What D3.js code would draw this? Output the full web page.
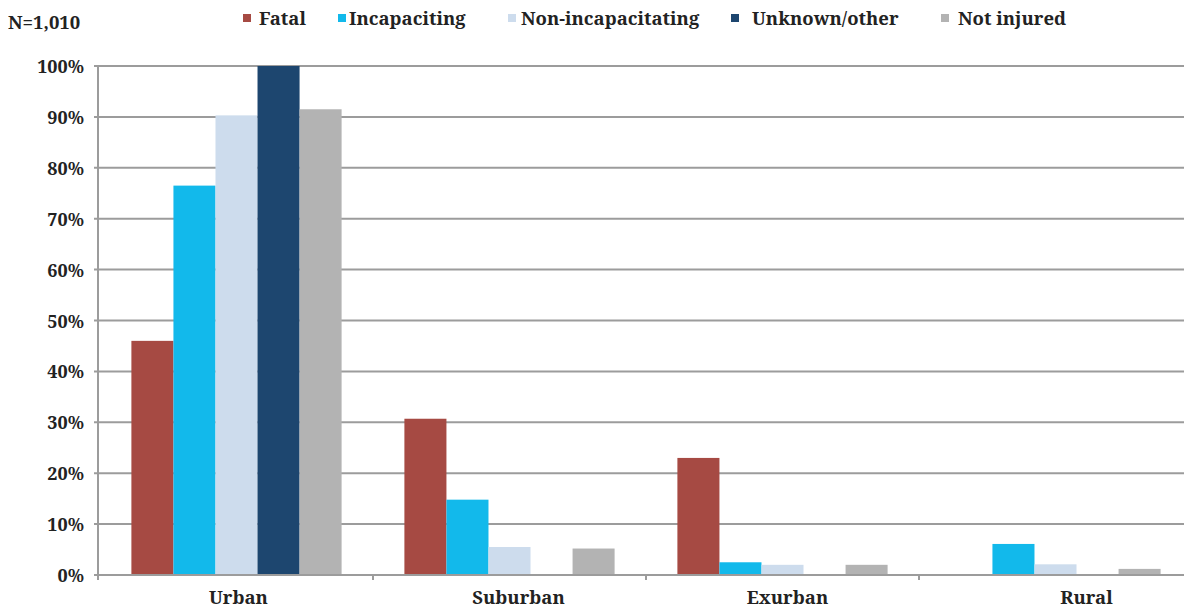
<!DOCTYPE html>
<html><head><meta charset="utf-8">
<script src="https://cdn.jsdelivr.net/npm/d3@7"></script>
<style>body{margin:0;background:#fff}svg{display:block}</style>
</head><body>
<svg id="chart" width="1184" height="608"></svg>
<script>
const categories = ["Urban", "Suburban", "Exurban", "Rural"];
const seriesNames = ["Fatal", "Incapaciting", "Non-incapacitating", "Unknown/other", "Not injured"];
const fatal = [46, 30.7, 23, 0];
const incapaciting = [76.5, 14.8, 2.5, 6.1];
const nonIncapacitating = [90.3, 5.5, 2.0, 2.1];
const unknownOther = [100, 0, 0, 0];
const notInjured = [91.5, 5.2, 2.0, 1.2];
const yTicks = [0, 10, 20, 30, 40, 50, 60, 70, 80, 90, 100];
const colors = ["#a64a43", "#12b9eb", "#cddced", "#1d466f", "#b3b3b3"];
const noteText = "N=1,010";

// layout-only tweak: the original's category labels sit slightly right of band centres
const labelShift = [2, 9, 5, 31];

const series = [fatal, incapaciting, nonIncapacitating, unknownOther, notInjured];
const svg = d3.select("#chart");
const font = "'Noto Serif', serif";
const L = 100, R = 1192, T = 66, B = 575;

const y = d3.scaleLinear().domain([0, 100]).range([B, T]);
const x0 = d3.scaleBand().domain(categories).range([L, R]).paddingInner(0.23).paddingOuter(0.115);
const x1 = d3.scaleBand().domain(d3.range(seriesNames.length)).range([0, x0.bandwidth()]);

// gridlines
svg.append("g").selectAll("line").data(yTicks).join("line")
  .attr("x1", L - 6).attr("x2", R).attr("y1", d => y(d)).attr("y2", d => y(d))
  .attr("stroke", "#9c9c9c").attr("stroke-width", 2);

// y axis line
svg.append("line").attr("x1", L - 2).attr("x2", L - 2).attr("y1", T - 1).attr("y2", B + 5)
  .attr("stroke", "#9c9c9c").attr("stroke-width", 2);

// category boundary ticks
const step = x0.step();
svg.append("g").selectAll("line").data(categories.slice(1)).join("line")
  .attr("x1", d => x0(d) - step * 0.115).attr("x2", d => x0(d) - step * 0.115)
  .attr("y1", B).attr("y2", B + 5).attr("stroke", "#9c9c9c").attr("stroke-width", 2);

// bars
const g = svg.append("g");
categories.forEach((c, ci) => {
  series.forEach((s, si) => {
    const v = s[ci];
    if (v <= 0) return;
    g.append("rect")
      .attr("x", x0(c) + x1(si)).attr("width", x1.bandwidth())
      .attr("y", y(v)).attr("height", y(0) - y(v) - 1)
      .attr("fill", colors[si]);
  });
});

// y labels
svg.append("g").selectAll("text").data(yTicks).join("text")
  .attr("x", 84).attr("y", d => y(d) + 7)
  .attr("text-anchor", "end").attr("font-family", font).attr("font-weight", "bold")
  .attr("font-size", 18).attr("fill", "#222").text(d => d + "%");

// category labels
svg.append("g").selectAll("text").data(categories).join("text")
  .attr("x", (d, i) => x0(d) + x0.bandwidth() / 2 + labelShift[i]).attr("y", 604)
  .attr("text-anchor", "middle").attr("font-family", font).attr("font-weight", "bold")
  .attr("font-size", 18.5).attr("fill", "#222").text(d => d);

// N label
svg.append("text").attr("x", 8).attr("y", 29).attr("font-family", font).attr("font-weight", "bold")
  .attr("font-size", 18.5).attr("fill", "#222").text(noteText);

// legend
const legX = [243, 338, 508, 731, 941];
const legOff = [16, 11, 13, 21, 17];
const leg = svg.append("g");
seriesNames.forEach((n, i) => {
  leg.append("rect").attr("x", legX[i]).attr("y", 14).attr("width", 8).attr("height", 8).attr("fill", colors[i]);
  leg.append("text").attr("x", legX[i] + legOff[i]).attr("y", 25)
    .attr("font-family", font).attr("font-weight", "bold").attr("font-size", 18.5).attr("fill", "#222").text(n);
});
</script>
</body></html>
